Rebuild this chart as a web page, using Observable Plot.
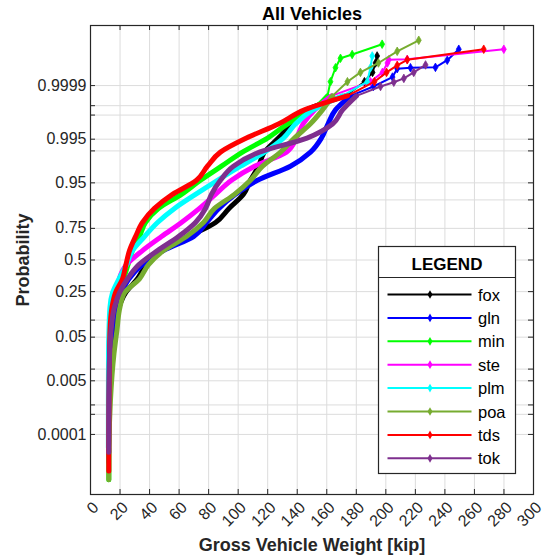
<!DOCTYPE html>
<html><head><meta charset="utf-8">
<script src="https://cdn.jsdelivr.net/npm/d3@7"></script>
<script src="https://cdn.jsdelivr.net/npm/@observablehq/plot@0.6"></script>
<style>html,body{margin:0;padding:0;background:#fff;} svg{display:block;}</style>
</head><body><div id="chart"></div>
<script>
// ---- data: [gross vehicle weight (kip), cumulative probability] ----
const seriesNames = ["fox", "gln", "min", "ste", "plm", "poa", "tds", "tok"];
const seriesColors = ["#000000", "#0000ff", "#00ff00", "#ff00ff", "#00ffff", "#77ac30", "#ff0000", "#7e2f8e"];

const fox = [[12.2,0.0000133],[12.2,0.0000317],[12.5,0.00135],[13.5,0.02275],[15.6,0.0668],[19.3,0.1587],[23.7,0.242],[31.8,0.3446],[37.9,0.4602],[48.1,0.5793],[66.4,0.6915],[84.7,0.7881],[93.8,0.8643],[103.6,0.9192],[108.3,0.9554],[113.8,0.97725],[117.8,0.98928],[127.3,0.99534],[136.1,0.99813],[146.3,0.999313],[172.7,0.999767],[185.5,0.999928],[191.0,0.9999683],[193.0,0.9999867],[194.1,0.9999932]];
const gln = [[12.2,0.0000085],[12.2,0.0000317],[12.5,0.00135],[13.2,0.02275],[14.6,0.0668],[17.3,0.1587],[21.0,0.242],[26.1,0.3446],[35.2,0.4602],[49.4,0.5793],[69.8,0.6915],[78.6,0.7881],[87.0,0.8643],[98.2,0.9192],[113.1,0.9554],[135.4,0.97725],[149.0,0.98928],[156.4,0.99534],[160.8,0.99813],[165.9,0.999313],[176.1,0.999767],[191.6,0.999892],[204.5,0.999952],[207.7,0.9999775],[216.7,0.9999793],[233.6,0.99998],[241.6,0.9999898],[249.4,0.9999965]];
const min = [[12.4,0.0000014],[12.4,0.0000317],[12.5,0.00135],[12.9,0.02275],[13.5,0.0668],[15.2,0.1587],[17.9,0.242],[22.3,0.3446],[25.4,0.4602],[28.4,0.5793],[33.2,0.6915],[37.2,0.7881],[46.0,0.8643],[61.6,0.9192],[74.5,0.9554],[88.7,0.97725],[102.9,0.98928],[119.9,0.99534],[133.4,0.99813],[150.3,0.999313],[160.5,0.999767],[162.5,0.999928],[165.9,0.9999793],[169.3,0.9999915],[177.2,0.9999941],[197.5,0.9999979]];
const ste = [[12.2,0.0000207],[12.2,0.0000317],[12.2,0.00135],[12.5,0.02275],[13.2,0.0668],[14.9,0.1587],[18.3,0.242],[19.6,0.3446],[24.4,0.4602],[35.2,0.5793],[48.1,0.6915],[61.6,0.7881],[73.8,0.8643],[84.6,0.9192],[95.5,0.9554],[111.1,0.97725],[132.7,0.98928],[139.5,0.99534],[143.9,0.99813],[151.7,0.999313],[163.2,0.999767],[189.6,0.999928],[197.7,0.9999683],[201.1,0.9999867],[202.0,0.9999902],[214.5,0.9999906],[279.9,0.9999965]];
const plm = [[12.1,0.0000317],[12.1,0.00135],[12.2,0.02275],[12.5,0.0668],[13.2,0.1587],[14.9,0.242],[19.3,0.3446],[24.4,0.4602],[28.4,0.5793],[36.6,0.6915],[45.4,0.7881],[56.9,0.8643],[71.1,0.9192],[86.0,0.9554],[101.6,0.97725],[117.8,0.98928],[130.7,0.99534],[138.8,0.99813],[150.7,0.999313],[170.7,0.999767],[187.4,0.999928],[189.6,0.9999793],[190.8,0.9999932]];
const poa = [[12.4,0.0000014],[12.5,0.0000317],[13.5,0.00135],[15.9,0.02275],[17.9,0.0668],[20.0,0.1587],[23.0,0.242],[33.2,0.3446],[39.3,0.4602],[49.4,0.5793],[65.0,0.6915],[76.5,0.7881],[84.0,0.8643],[97.5,0.9192],[108.3,0.9554],[116.5,0.97725],[128.7,0.98928],[138.1,0.99534],[148.8,0.99813],[157.1,0.999313],[163.9,0.999767],[174.0,0.999928],[182.8,0.9999683],[195.0,0.9999867],[207.7,0.9999957],[222.3,0.9999986]];
const tds = [[12.4,0.0000034],[12.4,0.0000317],[12.5,0.00135],[12.9,0.02275],[13.2,0.0668],[14.6,0.1587],[16.9,0.242],[21.7,0.3446],[24.0,0.4602],[26.4,0.5793],[30.5,0.6915],[35.2,0.7881],[43.3,0.8643],[55.5,0.9192],[71.8,0.9554],[79.2,0.97725],[88.0,0.98928],[105.6,0.99534],[127.3,0.99813],[144.9,0.999313],[174.0,0.999767],[192.3,0.999928],[200.5,0.9999683],[207.7,0.9999834],[214.5,0.9999902],[266.3,0.9999965]];
const tok = [[12.4,0.0000207],[12.4,0.0000317],[12.5,0.00135],[12.9,0.02275],[13.9,0.0668],[16.3,0.1587],[19.6,0.242],[25.1,0.3446],[32.8,0.4602],[45.4,0.5793],[59.6,0.6915],[71.1,0.7881],[77.9,0.8643],[81.9,0.9192],[88.0,0.9554],[96.8,0.97725],[114.4,0.98928],[146.6,0.99534],[163.9,0.99813],[170.7,0.999313],[180.1,0.999767],[196.4,0.999892],[205.4,0.999925],[212.2,0.999946],[218.9,0.9999683],[226.9,0.999984]];
const seriesData = [fox, gln, min, ste, plm, poa, tds, tok];

const xTicks = [0,20,40,60,80,100,120,140,160,180,200,220,240,260,280,300];
const yGridProbs = [0.0001,0.0005,0.001,0.005,0.01,0.05,0.1,0.25,0.5,0.75,0.9,0.95,0.99,0.995,0.999,0.9995,0.9999];
const yLabelProbs = [0.0001,0.005,0.05,0.25,0.5,0.75,0.95,0.995,0.9999];
const yLabelText = ["0.0001","0.005","0.05","0.25","0.5","0.75","0.95","0.995","0.9999"];

const titleText = "All Vehicles";
const xLabelText = "Gross Vehicle Weight [kip]";
const yLabelTitle = "Probability";
const legendTitle = "LEGEND";

// inverse standard normal CDF (normal probability paper)
function probit(p) {
  const a=[-3.969683028665376e+01,2.209460984245205e+02,-2.759285104469687e+02,1.383577518672690e+02,-3.066479806614716e+01,2.506628277459239e+00];
  const b=[-5.447609879822406e+01,1.615858368580409e+02,-1.556989798598866e+02,6.680131188771972e+01,-1.328068155288572e+01];
  const c=[-7.784894002430293e-03,-3.223964580411365e-01,-2.400758277161838e+00,-2.549732539343734e+00,4.374664141464968e+00,2.938163982698783e+00];
  const d=[7.784695709041462e-03,3.224671290700398e-01,2.445134137142996e+00,3.754408661907416e+00];
  const pl=0.02425, ph=1-pl;
  if (p < pl) { const q=Math.sqrt(-2*Math.log(p)); return (((((c[0]*q+c[1])*q+c[2])*q+c[3])*q+c[4])*q+c[5])/((((d[0]*q+d[1])*q+d[2])*q+d[3])*q+1); }
  if (p <= ph) { const q=p-0.5, r=q*q; return (((((a[0]*r+a[1])*r+a[2])*r+a[3])*r+a[4])*r+a[5])*q/(((((b[0]*r+b[1])*r+b[2])*r+b[3])*r+b[4])*r+1); }
  const q=Math.sqrt(-2*Math.log(1-p)); return -(((((c[0]*q+c[1])*q+c[2])*q+c[3])*q+c[4])*q+c[5])/((((d[0]*q+d[1])*q+d[2])*q+d[3])*q+1);
}

const FONT = "'Liberation Sans', Arial, Helvetica, sans-serif";
const W = 542, H = 558, ML = 90, MR = 9, MT = 25, MB = 64;
const FW = W - ML - MR, FH = H - MT - MB;
const TICK = 5;
const gridColor = "#dcdcdc", axisColor = "#262626";

const marks = [];
marks.push(Plot.ruleX(xTicks, {x: d => d, stroke: gridColor, strokeWidth: 1}));
marks.push(Plot.ruleY(yGridProbs, {y: d => probit(d), stroke: gridColor, strokeWidth: 1}));

seriesNames.forEach((name, i) => {
  const pts = seriesData[i];
  const col = seriesColors[i];
  const X = d => d[0], Y = d => probit(d[1]);
  marks.push(Plot.line(pts, {x: X, y: Y, stroke: col, strokeWidth: 2, strokeLinejoin: "round"}));
  marks.push(Plot.line(pts.filter(d => d[1] <= 0.9998), {x: X, y: Y, stroke: col, strokeWidth: 5, strokeLinejoin: "round", strokeLinecap: "round", curve: "monotone-y"}));
  marks.push(Plot.dot(pts.filter(d => d[1] > 0.9998), {x: X, y: Y, symbol: "diamond", r: 2.6, fill: col, stroke: col, strokeWidth: 0.8}));
});

// inward ticks (box style)
marks.push(Plot.tickX(xTicks, {x: d => d, insetTop: FH - TICK, stroke: axisColor}));
marks.push(Plot.tickX(xTicks, {x: d => d, insetBottom: FH - TICK, stroke: axisColor}));
marks.push(Plot.tickY(yGridProbs, {y: d => probit(d), insetRight: FW - TICK, stroke: axisColor}));
marks.push(Plot.tickY(yGridProbs, {y: d => probit(d), insetLeft: FW - TICK, stroke: axisColor}));
marks.push(Plot.frame({stroke: axisColor, strokeWidth: 1.2}));

// tick labels
marks.push(Plot.text(yLabelProbs, {y: d => probit(d), text: (d, i) => yLabelText[i], frameAnchor: "left", dx: -4, textAnchor: "end", lineAnchor: "middle", fontSize: 16, fill: "#262626"}));
marks.push(Plot.text(xTicks, {x: d => d, text: d => String(d), frameAnchor: "bottom", dx: 9, dy: 14, rotate: -45, textAnchor: "end", lineAnchor: "bottom", fontSize: 16, fill: "#262626"}));

// titles
marks.push(Plot.text([titleText], {frameAnchor: "top", dy: -11, textAnchor: "middle", lineAnchor: "middle", fontSize: 18, fontWeight: "bold", fill: "#000"}));
marks.push(Plot.text([xLabelText], {frameAnchor: "bottom", dy: 51, textAnchor: "middle", lineAnchor: "middle", fontSize: 18, fontWeight: "bold", fill: "#262626"}));
marks.push(Plot.text([yLabelTitle], {frameAnchor: "left", dx: -67, rotate: -90, textAnchor: "middle", lineAnchor: "middle", fontSize: 18, fontWeight: "bold", fill: "#262626"}));

const plot = Plot.plot({
  width: W, height: H,
  marginLeft: ML, marginRight: MR, marginTop: MT, marginBottom: MB,
  style: {fontFamily: FONT, background: "#fff", overflow: "visible"},
  x: {domain: [0, 300], axis: null},
  y: {domain: [-5, 5], axis: null},
  marks
});
document.getElementById("chart").appendChild(plot);

// legend box (layout in pixels)
const svg = d3.select(plot);
const g = svg.append("g").attr("font-family", FONT).attr("text-anchor", "start");
const lx = 378.5, ly = 246.5, lw = 137, lh = 227;
g.append("rect").attr("x", lx).attr("y", ly).attr("width", lw).attr("height", lh).attr("fill", "#fff").attr("stroke", axisColor).attr("stroke-width", 1.2);
g.append("line").attr("x1", lx).attr("x2", lx + lw).attr("y1", 277.5).attr("y2", 277.5).attr("stroke", axisColor).attr("stroke-width", 1.2);
g.append("text").attr("x", lx + lw / 2).attr("y", 269.5).attr("text-anchor", "middle").attr("font-size", 17).attr("font-weight", "bold").attr("fill", "#000").text(legendTitle);
seriesNames.forEach((name, i) => {
  const y = 294.5 + i * 23.4;
  const col = seriesColors[i];
  g.append("line").attr("x1", 387.5).attr("x2", 471.5).attr("y1", y).attr("y2", y).attr("stroke", col).attr("stroke-width", 2);
  g.append("path").attr("d", d3.symbol(d3.symbolDiamond, 22)()).attr("transform", `translate(430,${y})`).attr("fill", col);
  g.append("text").attr("x", 478).attr("y", y + 6).attr("text-anchor", "start").attr("font-size", 16.5).attr("fill", "#000").text(name);
});
</script>
</body></html>
